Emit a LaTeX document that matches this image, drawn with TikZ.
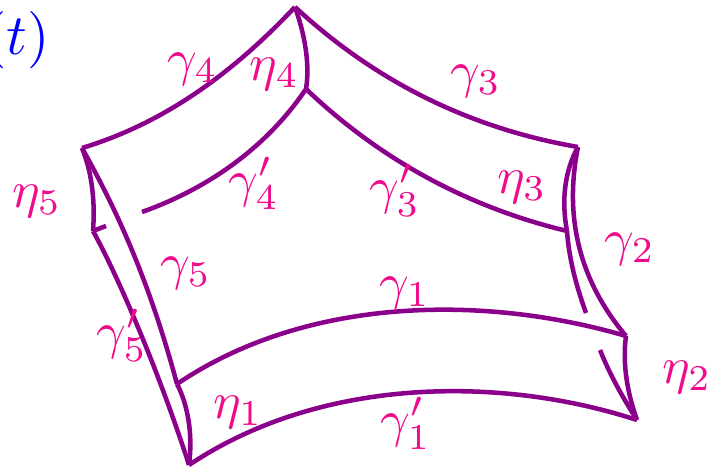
\documentclass[tikz,border=0pt]{standalone}
\definecolor{curvecol}{RGB}{139,0,139}
\definecolor{labcol}{RGB}{240,10,140}
\tikzset{
  curve/.style={draw=curvecol,line width=3.4pt,line cap=butt,line join=miter},
  lab/.style={text=labcol,scale=3.9,inner sep=0pt},
  timelab/.style={text=blue,scale=4.3,inner sep=0pt}
}
\begin{document}
\begin{tikzpicture}[x=0.75pt,y=-0.75pt]
\clip (0,0) rectangle (709,470);
\useasboundingbox (0,0) rectangle (709,470);
% corners
\coordinate (A) at (295,7);
\coordinate (Ap) at (306,89);
\coordinate (B) at (82,148);
\coordinate (Bp) at (93,231);
\coordinate (C) at (578,147);
\coordinate (Cp) at (567,231);
\coordinate (D) at (626,336);
\coordinate (Dp) at (637,420);
\coordinate (E) at (177,384);
\coordinate (Ep) at (189,465);
\coordinate (g4end) at (142,212);
\coordinate (tickA) at (106,226);
\coordinate (g2a) at (586,313);
\coordinate (g2b) at (600,350);
% outer
\draw[curve] (B) .. controls (148,128) and (219,88) .. (A);
\draw[curve] (A) .. controls (375.5,81.7) and (469.8,128.3) .. (C);
\draw[curve] (C) .. controls (563.7,217.7) and (579.7,281) .. (D);
\draw[curve] (E) .. controls (310,294) and (490,296) .. (D);
\draw[curve] (B) .. controls (108,195) and (145,265) .. (E);
% inner
\draw[curve] (Ap) .. controls (268,145) and (212,187) .. (g4end);
\draw[curve] (tickA) -- (Bp);
\draw[curve] (Ap) .. controls (380.3,159.7) and (467.3,207) .. (Cp);
\draw[curve] (Cp) .. controls (569,260) and (577,288) .. (g2a);
\draw[curve] (g2b) .. controls (610,375) and (623,398) .. (Dp);
\draw[curve] (Ep) .. controls (322,376) and (502,376) .. (Dp);
\draw[curve] (Bp) .. controls (120,280) and (160,375) .. (Ep);
% eta edges
\draw[curve] (A) .. controls (305,35) and (310,65) .. (Ap);
\draw[curve] (C) .. controls (565,170) and (561,200) .. (Cp);
\draw[curve] (D) .. controls (622,365) and (628,395) .. (Dp);
\draw[curve] (E) .. controls (188,405) and (193,435) .. (Ep);
\draw[curve] (B) .. controls (93,175) and (95,205) .. (Bp);
% labels
\node[timelab] (tl) at (17,40) {$(t)$};
\node[lab] (g4) at (193,69) {$\gamma_4$};
\node[lab] (e4) at (274.5,74) {$\eta_4$};
\node[lab] (g3) at (476,81) {$\gamma_3$};
\node[lab] (g4p) at (254,183) {$\gamma'_4$};
\node[lab] (g3p) at (395,190) {$\gamma'_3$};
\node[lab] (e3) at (522,187) {$\eta_3$};
\node[lab] (e5) at (37,201) {$\eta_5$};
\node[lab] (g5) at (186,273) {$\gamma_5$};
\node[lab] (g2) at (630,249) {$\gamma_2$};
\node[lab] (g1) at (405,293) {$\gamma_1$};
\node[lab] (g5p) at (122,335) {$\gamma'_5$};
\node[lab] (e1) at (238,412) {$\eta_1$};
\node[lab] (g1p) at (406,423) {$\gamma'_1$};
\node[lab] (e2) at (687,377) {$\eta_2$};
\end{tikzpicture}
\end{document}
